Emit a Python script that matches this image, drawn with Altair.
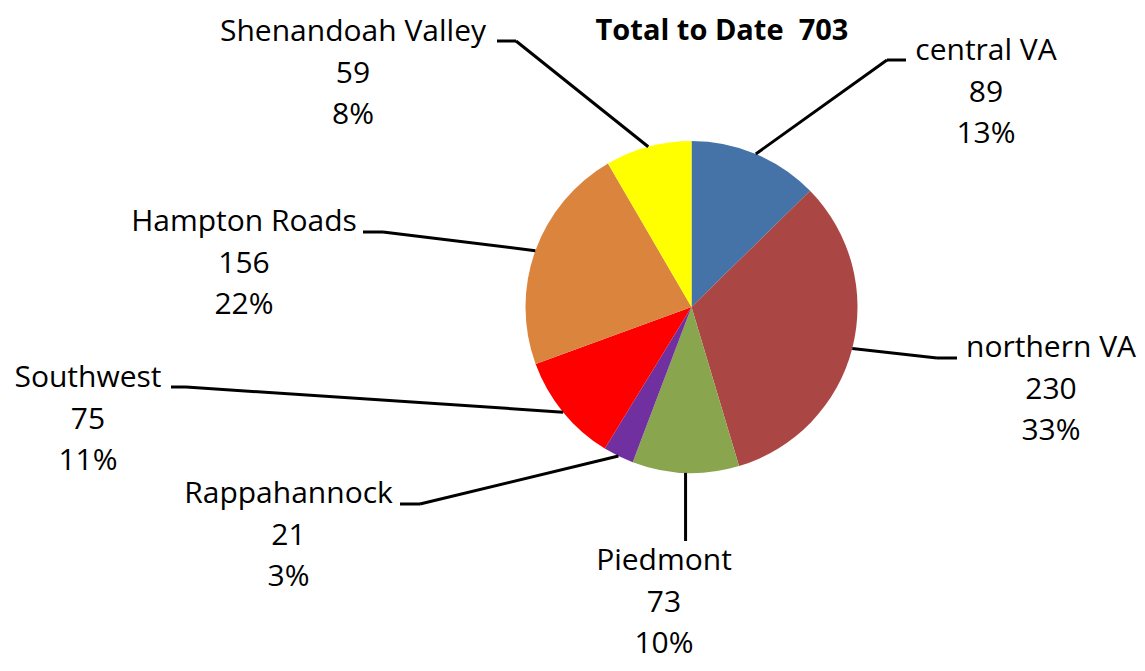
import altair as alt
import pandas as pd

# ---- data ----
regions = ["central VA", "northern VA", "Piedmont", "Rappahannock",
           "Southwest", "Hampton Roads", "Shenandoah Valley"]
counts = [89, 230, 73, 21, 75, 156, 59]
colors = ["#4572A7", "#AA4643", "#89A54E", "#7030A0",
          "#FF0000", "#DB843D", "#FFFF00"]
title_text = "Total to Date\u00a0 703"

# ---- layout (pixels inside the chart area) ----
W, H = 1129, 654
CX, CY, R = 683.5, 299, 166
label_x = [978, 1043, 656, 280.5, 80, 236, 345]
label_y = [52, 349, 562, 495, 379, 223, 33]
elbow_x = [879, 929, None, 412, 178, 375, 508]
elbow_y = [52, 350, 533, 496, 379, 224, 33]
end_x = [898, 949, None, 392, 163, 355, 489]
end_y = [52, 350, 533, 496, 379, 224, 33]

df = pd.DataFrame({
    "region": regions,
    "count": counts,
    "idx": list(range(len(regions))),
    "lx": label_x, "ly": label_y,
    "bx": elbow_x, "by": elbow_y,
    "qx": end_x, "qy": end_y,
})

base = alt.Chart(df).transform_joinaggregate(
    total="sum(count)"
).transform_window(
    cum="sum(count)", sort=[alt.SortField("idx")], frame=[None, 0]
).transform_calculate(
    mid="(datum.cum - datum.count/2) / datum.total * 2 * PI",
).transform_calculate(
    ex=f"{CX} + {R} * sin(datum.mid)",
    ey=f"{CY} - {R} * cos(datum.mid)",
).transform_calculate(
    bx2="isValid(datum.bx) ? datum.bx : datum.ex",
    qx2="isValid(datum.qx) ? datum.qx : datum.ex",
    label="datum.region + '\\n' + datum.count + '\\n' + format(datum.count / datum.total, '.0%')",
)

pie = alt.Chart(df).mark_arc(radius=R, stroke=None).encode(
    theta=alt.Theta("count:Q", stack=True),
    order=alt.Order("idx:Q"),
    color=alt.Color("region:N", scale=alt.Scale(domain=regions, range=colors), legend=None),
    x=alt.value(CX),
    y=alt.value(CY),
)

leader1 = base.mark_rule(color="black", strokeWidth=3).encode(
    x=alt.X("ex:Q", scale=None, axis=None),
    y=alt.Y("ey:Q", scale=None, axis=None),
    x2="bx2:Q",
    y2="by:Q",
)

leader2 = base.mark_rule(color="black", strokeWidth=3).encode(
    x=alt.X("bx2:Q", scale=None, axis=None),
    y=alt.Y("by:Q", scale=None, axis=None),
    x2="qx2:Q",
    y2="qy:Q",
)

labels = base.mark_text(
    font="Open Sans", fontSize=30, lineHeight=41.5, lineBreak="\n",
    align="center", baseline="alphabetic", color="black",
).encode(
    x=alt.X("lx:Q", scale=None, axis=None),
    y=alt.Y("ly:Q", scale=None, axis=None),
    text="label:N",
)

title = alt.Chart(pd.DataFrame({"t": [title_text]})).mark_text(
    font="Open Sans", fontSize=29, fontWeight="bold",
    align="center", baseline="alphabetic", color="black",
).encode(
    x=alt.value(714),
    y=alt.value(32),
    text="t:N",
)

chart = alt.layer(pie, leader1, leader2, labels, title).properties(
    width=W, height=H, padding=0, autosize="none"
).configure_view(stroke=None)

chart.save("out.html", embed_options={"renderer": "svg", "actions": False})
